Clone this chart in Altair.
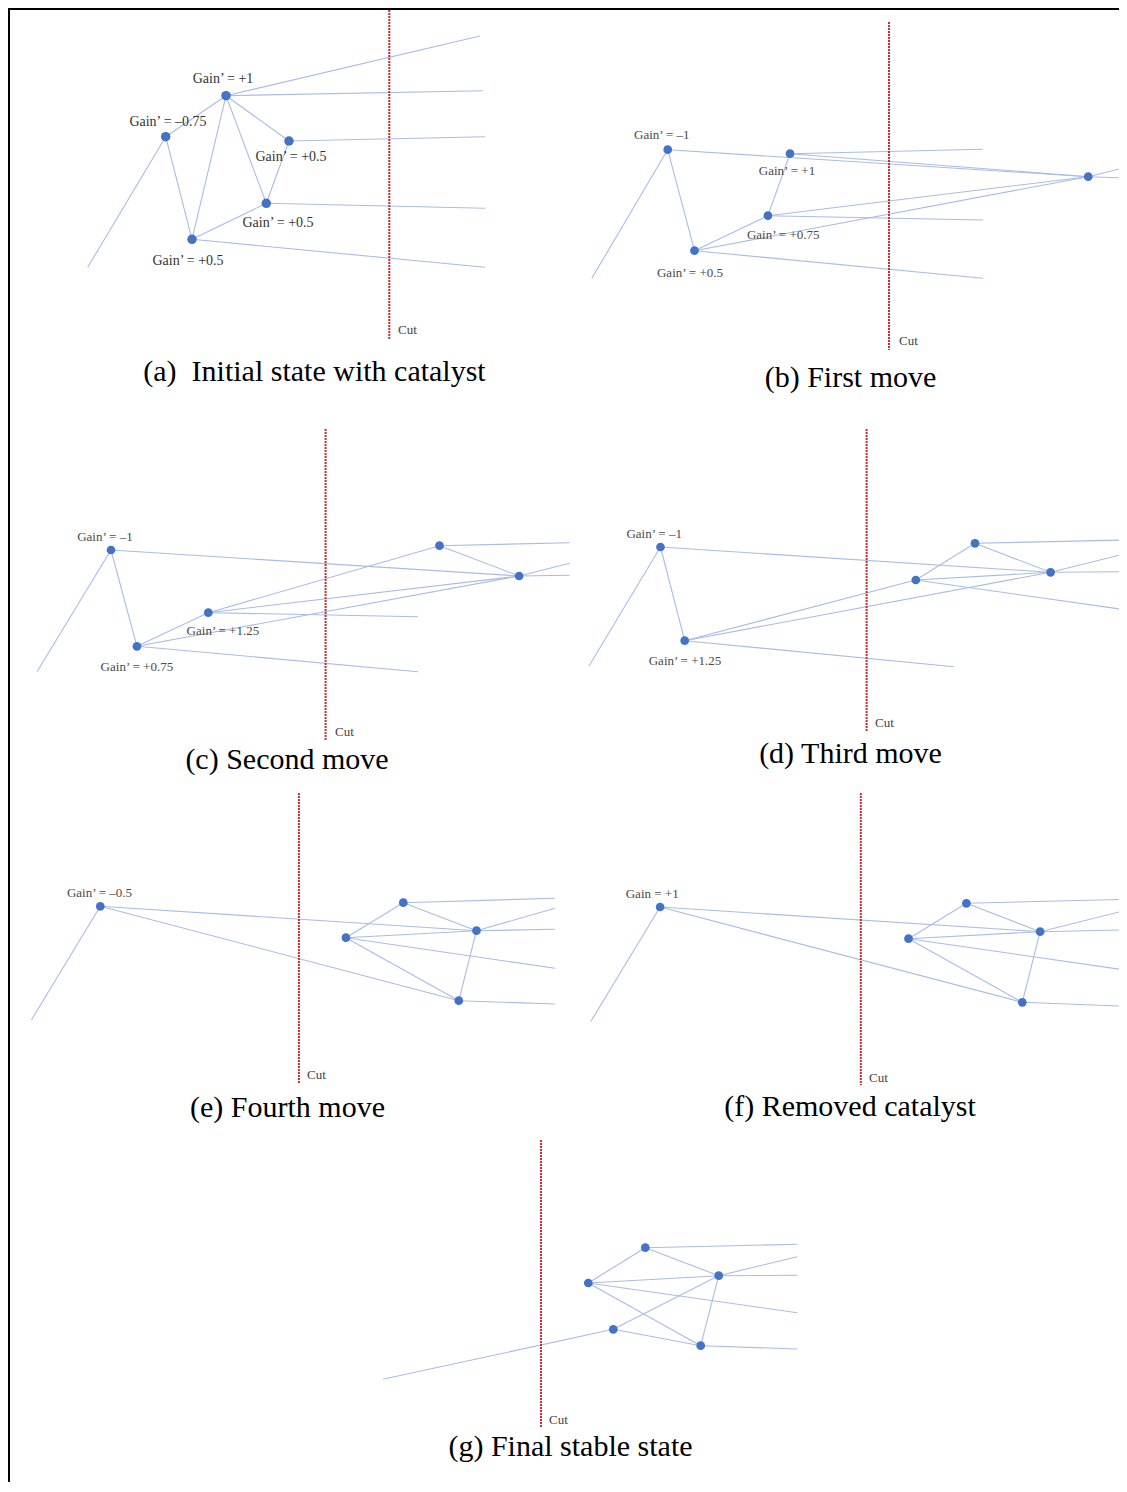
import altair as alt
import pandas as pd

# ---------------- data (page-pixel coordinates) ----------------
# (a) Initial state with catalyst
A_nx = [226, 165.7, 289, 266.3, 192]
A_ny = [95.7, 136.7, 141, 203.3, 239.3]
A_edges = [(1, 0), (1, 4), (0, 4), (0, 3), (0, 2), (2, 3), (3, 4)]
A_tail_from = [1, 0, 0, 2, 3, 4]
A_tail_x = [87.7, 480, 483, 485, 485, 485]
A_tail_y = [267.3, 36, 90.7, 136.7, 208.3, 267.3]
A_lab = ["Gain’ = +1", "Gain’ = –0.75", "Gain’ = +0.5", "Gain’ = +0.5", "Gain’ = +0.5"]
A_lab_x = [223, 168, 291, 278, 188]
A_lab_y = [79, 122, 157, 222.7, 260.7]

# (b) First move
B_nx = [667.7, 790, 767.9, 694.5, 1088.2]
B_ny = [149.7, 153.7, 215.7, 250.7, 176.7]
B_edges = [(0, 3), (0, 4), (1, 2), (1, 4), (2, 3), (2, 4), (3, 4)]
B_tail_from = [0, 1, 2, 3, 4, 4]
B_tail_x = [591.8, 983, 983, 983, 1127, 1127]
B_tail_y = [278.3, 149.3, 220, 278.3, 167, 178]
B_lab = ["Gain’ = –1", "Gain’ = +1", "Gain’ = +0.75", "Gain’ = +0.5"]
B_lab_x = [661.8, 787, 783.2, 690]
B_lab_y = [135, 170.7, 235, 272.7]

# (c) Second move
C_nx = [111, 136.9, 208.3, 439.5, 519.1]
C_ny = [550, 646.3, 612.7, 545.7, 576]
C_edges = [(0, 1), (0, 4), (1, 2), (1, 4), (2, 3), (2, 4), (3, 4)]
C_tail_from = [0, 1, 2, 3, 4, 4]
C_tail_x = [37, 418, 418, 569.7, 569.7, 569.7]
C_tail_y = [671.7, 671.7, 616.7, 542.7, 563.3, 575.3]
C_lab = ["Gain’ = –1", "Gain’ = +0.75", "Gain’ = +1.25"]
C_lab_x = [104.9, 136.9, 222.9]
C_lab_y = [536.7, 667, 631.3]

# (d) Third move
D_nx = [660.5, 684.7, 915.8, 975, 1050.6]
D_ny = [547, 640.7, 580, 543.3, 572.3]
D_edges = [(0, 1), (0, 4), (1, 2), (1, 4), (2, 3), (2, 4), (3, 4)]
D_tail_from = [0, 1, 2, 3, 4, 4]
D_tail_x = [589, 954, 1127, 1127, 1127, 1127]
D_tail_y = [666, 666.7, 610, 540, 553.3, 571.7]
D_lab = ["Gain’ = –1", "Gain’ = +1.25"]
D_lab_x = [654.2, 685]
D_lab_y = [534, 660.7]

# (e) Fourth move
E_nx = [100.3, 345.9, 403.3, 476.5, 458.8]
E_ny = [906.3, 937.7, 902.7, 930.7, 1000.7]
E_edges = [(0, 3), (0, 4), (1, 2), (1, 3), (1, 4), (2, 3), (3, 4)]
E_tail_from = [0, 1, 2, 3, 3, 4]
E_tail_x = [31.4, 555, 555, 555, 555, 555]
E_tail_y = [1020, 968.3, 898.3, 908.3, 929.3, 1004]
E_lab = ["Gain’ = –0.5"]
E_lab_x = [99.5]
E_lab_y = [893.3]

# (f) Removed catalyst
F_nx = [660.1, 908.5, 966.4, 1040.1, 1022.3]
F_ny = [907, 938.7, 903.3, 931.7, 1002.3]
F_edges = [(0, 3), (0, 4), (1, 2), (1, 3), (1, 4), (2, 3), (3, 4)]
F_tail_from = [0, 1, 2, 3, 3, 4]
F_tail_x = [590.7, 1120, 1120, 1120, 1120, 1120]
F_tail_y = [1021.7, 969.3, 899.5, 911.7, 930, 1006]
F_lab = ["Gain = +1"]
F_lab_x = [652.2]
F_lab_y = [894]

# (g) Final stable state
G_nx = [588.3, 645.3, 718.7, 700.7, 613.3]
G_ny = [1283, 1247.7, 1275.7, 1345.7, 1329.3]
G_edges = [(0, 1), (0, 2), (0, 3), (1, 2), (2, 3), (2, 4), (4, 3)]
G_tail_from = [4, 1, 2, 2, 0, 3]
G_tail_x = [382.7, 797.3, 797.3, 797.3, 797.3, 797.3]
G_tail_y = [1379.3, 1244.3, 1256.7, 1275.3, 1312.7, 1349]
G_lab = []
G_lab_x = []
G_lab_y = []

# Cut lines
cut_x = [389.3, 889, 325.6, 866.6, 298.9, 860.8, 541]
cut_y1 = [7, 22, 429, 429, 793, 793, 1140]
cut_y2 = [339, 350, 740, 732, 1083, 1085, 1427]
cut_text = ["Cut"] * 7
cut_text_x = [398, 899, 335, 875, 307, 869, 549]
cut_text_y = [330, 341, 732, 723, 1075, 1078, 1420]

# Captions
captions = ["(a)\u00a0 Initial state with catalyst", "(b) First move", "(c) Second move",
            "(d) Third move", "(e) Fourth move", "(f) Removed catalyst",
            "(g) Final stable state"]
cap_x = [314.5, 850.5, 287, 850.5, 287.5, 850, 570.5]
cap_y = [372, 378, 760, 754, 1108, 1107, 1447]

# Frame
frame_x = [9, 8]
frame_y = [8, 9]
frame_x2 = [9, 1127]
frame_y2 = [1484, 9]

# ---------------- tables ----------------
panels = {
    "a": (A_nx, A_ny, A_edges, A_tail_from, A_tail_x, A_tail_y, A_lab, A_lab_x, A_lab_y),
    "b": (B_nx, B_ny, B_edges, B_tail_from, B_tail_x, B_tail_y, B_lab, B_lab_x, B_lab_y),
    "c": (C_nx, C_ny, C_edges, C_tail_from, C_tail_x, C_tail_y, C_lab, C_lab_x, C_lab_y),
    "d": (D_nx, D_ny, D_edges, D_tail_from, D_tail_x, D_tail_y, D_lab, D_lab_x, D_lab_y),
    "e": (E_nx, E_ny, E_edges, E_tail_from, E_tail_x, E_tail_y, E_lab, E_lab_x, E_lab_y),
    "f": (F_nx, F_ny, F_edges, F_tail_from, F_tail_x, F_tail_y, F_lab, F_lab_x, F_lab_y),
    "g": (G_nx, G_ny, G_edges, G_tail_from, G_tail_x, G_tail_y, G_lab, G_lab_x, G_lab_y),
}

edge_rows, node_rows, label_rows = [], [], []
for p, (nx, ny, edges, tf, tx, ty, lab, lx, ly) in panels.items():
    for i, j in edges:
        edge_rows.append(dict(panel=p, x=nx[i], y=ny[i], x2=nx[j], y2=ny[j]))
    for f, ex, ey in zip(tf, tx, ty):
        edge_rows.append(dict(panel=p, x=nx[f], y=ny[f], x2=ex, y2=ey))
    for x, y in zip(nx, ny):
        node_rows.append(dict(panel=p, x=x, y=y))
    for t, x, y in zip(lab, lx, ly):
        label_rows.append(dict(panel=p, x=x, y=y, text=t))

edges_df = pd.DataFrame(edge_rows)
nodes_df = pd.DataFrame(node_rows)
labels_df = pd.DataFrame(label_rows)
cuts_df = pd.DataFrame(dict(x=cut_x, y=cut_y1, y2=cut_y2))
cut_txt_df = pd.DataFrame(dict(x=cut_text_x, y=cut_text_y, text=cut_text))
cap_df = pd.DataFrame(dict(x=cap_x, y=cap_y, text=captions))
frame_df = pd.DataFrame(dict(x=frame_x, y=frame_y, x2=frame_x2, y2=frame_y2))

# ---------------- chart ----------------
W, H = 1111, 1474
xs = alt.Scale(domain=[8, 8 + W], nice=False, zero=False)
ys = alt.Scale(domain=[8, 8 + H], nice=False, zero=False, reverse=True)
X = alt.X("x:Q", scale=xs, axis=None)
Y = alt.Y("y:Q", scale=ys, axis=None)

edges = alt.Chart(edges_df).mark_rule(color="#a9bce6", strokeWidth=1.1, opacity=1).encode(
    x=X, y=Y, x2="x2:Q", y2="y2:Q")

cuts = alt.Chart(cuts_df).mark_rule(color="#d42a2a", strokeWidth=2, strokeDash=[2, 1]).encode(
    x=X, y=Y, y2="y2:Q")

nodes_a = alt.Chart(nodes_df[nodes_df.panel == "a"]).mark_circle(
    color="#4472c4", opacity=1, size=90).encode(x=X, y=Y)
nodes_rest = alt.Chart(nodes_df[nodes_df.panel != "a"]).mark_circle(
    color="#4472c4", opacity=1, size=76).encode(x=X, y=Y)

labels_a = alt.Chart(labels_df[labels_df.panel == "a"]).mark_text(
    font="Liberation Serif", fontSize=14, color="#333333", align="center", baseline="middle"
).encode(x=X, y=Y, text="text:N")
labels_rest = alt.Chart(labels_df[labels_df.panel != "a"]).mark_text(
    font="Liberation Serif", fontSize=13, color="#4a4a4a", align="center", baseline="middle"
).encode(x=X, y=Y, text="text:N")

cut_txt = alt.Chart(cut_txt_df).mark_text(
    font="Liberation Serif", fontSize=13, color="#444444", align="left", baseline="middle"
).encode(x=X, y=Y, text="text:N")

caps = alt.Chart(cap_df).mark_text(
    font="Liberation Serif", fontSize=30, color="#000000", align="center", baseline="middle"
).encode(x=X, y=Y, text="text:N")

frame = alt.Chart(frame_df).mark_rule(color="#000000", strokeWidth=2).encode(
    x=X, y=Y, x2="x2:Q", y2="y2:Q")

chart = alt.layer(edges, cuts, nodes_a, nodes_rest, labels_a, labels_rest, cut_txt, caps, frame).properties(
    width=W, height=H, padding=0, autosize=alt.AutoSizeParams(type="none"),
    background="white"
).configure_view(strokeWidth=0)

chart.save("out.html", embed_options={"renderer": "svg", "actions": False})
